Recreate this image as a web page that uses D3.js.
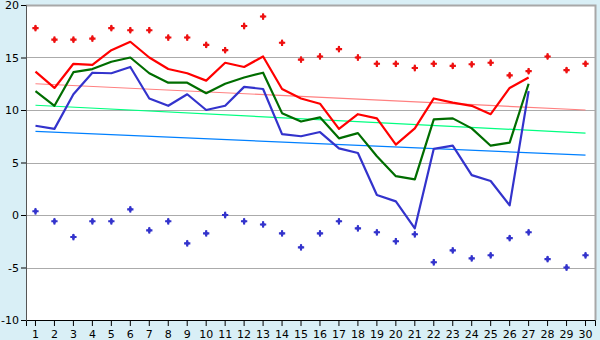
<!DOCTYPE html>
<html><head><meta charset="utf-8">
<script src="https://cdn.jsdelivr.net/npm/d3@7"></script>
<style>
html,body{margin:0;padding:0;background:#d9eff6;}
svg{display:block;}
text{font-family:"DejaVu Sans",sans-serif;font-size:11px;fill:#000;}
</style></head>
<body><svg id="c" width="600" height="340"></svg>
<script>
const categories = d3.range(1, 31).map(String);
const yTicks = [-10, -5, 0, 5, 10, 15, 20];
const yTickLabels = ["-10", "-5", "0", "5", "10", "15", "20"];

const redLine = [13.65,12.1,14.4,14.3,15.7,16.5,15.0,13.9,13.5,12.8,14.5,14.1,15.1,12.0,11.1,10.6,8.2,9.6,9.2,6.7,8.25,11.1,10.7,10.4,9.6,12.1,13.1];
const greenLine = [11.8,10.4,13.6,13.9,14.6,15.0,13.5,12.6,12.6,11.6,12.5,13.1,13.55,9.7,8.9,9.3,7.3,7.8,5.6,3.7,3.4,9.1,9.2,8.25,6.6,6.9,12.5];
const blueLine = [8.5,8.2,11.5,13.55,13.5,14.1,11.1,10.4,11.5,10.0,10.4,12.2,12.0,7.7,7.5,7.9,6.35,5.9,1.9,1.3,-1.27,6.3,6.6,3.8,3.24,0.92,11.8];
const redMarks = [17.8,16.7,16.7,16.8,17.8,17.6,17.6,16.9,16.9,16.2,15.7,18.0,18.9,16.4,14.8,15.1,15.8,15.0,14.4,14.4,14.0,14.4,14.2,14.35,14.5,13.3,13.7,15.1,13.8,14.4];
const blueMarks = [0.35,-0.6,-2.1,-0.6,-0.6,0.54,-1.46,-0.6,-2.7,-1.75,0,-0.6,-0.9,-1.75,-3.08,-1.75,-0.6,-1.27,-1.65,-2.5,-1.84,-4.5,-3.37,-4.13,-3.84,-2.2,-1.65,-4.2,-5.0,-3.84];
const trendCats = ["1", "30"];
const redTrend = [12.5, 10.0];
const greenTrend = [10.45, 7.8];
const blueTrend = [7.97, 5.7];

const svg = d3.select("#c");
const L = 26, R = 595, T = 5, B = 320;
const x = d3.scaleBand().domain(categories).range([L, R]).padding(0);
const cx = c => x(c) + x.bandwidth() / 2;
const y = d3.scaleLinear().domain([-10, 20]).range([B, T]);

// plot background
svg.append("rect").attr("x", L).attr("y", T).attr("width", R - L).attr("height", B - T).attr("fill", "#fff");

// gridlines
svg.append("g").selectAll("line").data(yTicks.filter(v => v > -10)).join("line")
  .attr("x1", L).attr("x2", R)
  .attr("y1", d => Math.round(y(d)) + 0.5).attr("y2", d => Math.round(y(d)) + 0.5)
  .attr("stroke", "#ababab").attr("stroke-width", 1);

// border right/top
svg.append("path").attr("d", `M${L},${T + 0.5}H${R + 0.5}V${B}`)
  .attr("fill", "none").attr("stroke", "#a8a8a8").attr("stroke-width", 2);

// trend lines
function trend(vals, color) {
  svg.append("path").datum(vals.map((v, i) => [trendCats[i], v]))
    .attr("d", d3.line().x(d => cx(d[0])).y(d => y(d[1])))
    .attr("fill", "none").attr("stroke", color).attr("stroke-width", 1.2);
}
trend(redTrend, "#ff8080");
trend(greenTrend, "#00ff80");
trend(blueTrend, "#0080ff");

// main lines
function series(vals, color) {
  svg.append("path").datum(vals.map((v, i) => [categories[i], v]))
    .attr("d", d3.line().x(d => cx(d[0])).y(d => y(d[1])))
    .attr("fill", "none").attr("stroke", color).attr("stroke-width", 2.2)
    .attr("stroke-linejoin", "round");
}
series(redLine, "#ff0000");
series(greenLine, "#006d00");
series(blueLine, "#3333cc");

// markers
const sym = d3.symbol().type(d3.symbolCross).size(22);
function marks(vals, color) {
  svg.append("g").selectAll("path").data(vals.map((v, i) => [categories[i], v])).join("path")
    .attr("d", sym)
    .attr("transform", d => `translate(${cx(d[0])},${y(d[1])}) rotate(0)`)
    .attr("fill", color);
  svg.append("g").selectAll("path").data(vals.map((v, i) => [categories[i], v])).join("path")
    .attr("d", d3.symbol().type(d3.symbolDiamond).size(14))
    .attr("transform", d => `translate(${cx(d[0])},${y(d[1])})`)
    .attr("fill", color);
}
marks(redMarks, "#ee1111");
marks(blueMarks, "#3333cc");

// axes
const ax = svg.append("g").attr("transform", `translate(0,${B})`)
  .call(d3.axisBottom(x).tickSize(6).tickPadding(4));
ax.select(".domain").attr("stroke", "#000");
ax.selectAll("text").style("font-family", "DejaVu Sans").style("font-size", "11px");

const ay = svg.append("g").attr("transform", `translate(${L},0)`)
  .call(d3.axisLeft(y).tickValues(yTicks).tickFormat((d, i) => yTickLabels[i]).tickSize(5).tickPadding(2));
ay.select(".domain").attr("stroke", "#555");
ay.selectAll("text").style("font-family", "DejaVu Sans").style("font-size", "11px");
</script>
</body></html>
